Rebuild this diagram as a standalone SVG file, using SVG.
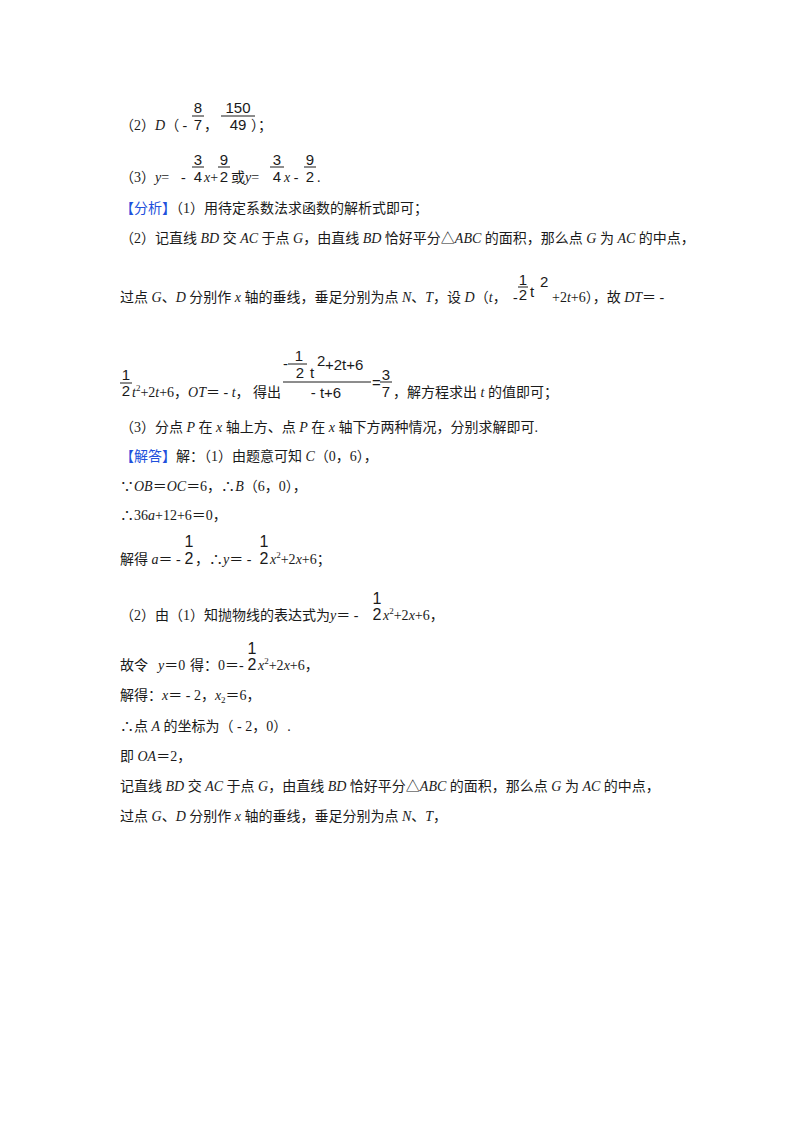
<svg xmlns="http://www.w3.org/2000/svg" width="800" height="1132" viewBox="0 0 800 1132">
<style>
.t{font-family:"Liberation Serif","Noto Sans CJK SC",serif;font-size:14px;fill:#1a1a1a}
.i{font-style:italic}
.f{font-family:"Liberation Sans","Noto Sans CJK SC",sans-serif;font-size:15px;fill:#1a1a1a}
.fc{font-family:"Liberation Sans",sans-serif;font-size:15px;fill:#1a1a1a;text-anchor:middle}
.fb{font-family:"Liberation Sans",sans-serif;font-size:16px;fill:#1a1a1a;text-anchor:middle}
.b{fill:#2150dc}
.sup{font-size:9px}
.bar{stroke:#1a1a1a;stroke-width:1;fill:none}
</style>
<rect width="800" height="1132" fill="#ffffff"/>

<g id="line1">
<text class="t" x="120" y="130">（2）<tspan class="i">D</tspan>（ - </text>
<text class="fc" x="198" y="113">8</text><line class="bar" x1="192" y1="116" x2="204" y2="116"/><text class="fc" x="198" y="130">7</text>
<text class="t" x="204" y="130">，</text>
<text class="fc" x="238" y="113">150</text><line class="bar" x1="221" y1="116" x2="255" y2="116"/><text class="fc" x="238" y="130">49</text>
<text class="t" x="251" y="130">）；</text>
</g>

<g id="line2">
<text class="t" x="120" y="182">（3）<tspan class="i">y</tspan>=</text>
<text class="t" x="181" y="182">-</text>
<text class="fc" x="198" y="165">3</text><line class="bar" x1="192" y1="167" x2="204" y2="167"/><text class="fc" x="198" y="182">4</text>
<text class="t" x="204" y="182"><tspan class="i">x</tspan>+</text>
<text class="fc" x="224" y="165">9</text><line class="bar" x1="218" y1="167" x2="230" y2="167"/><text class="fc" x="224" y="182">2</text>
<text class="t" x="231" y="182">或<tspan class="i">y</tspan>=</text>
<text class="fc" x="277" y="165">3</text><line class="bar" x1="270" y1="167" x2="284" y2="167"/><text class="fc" x="277" y="182">4</text>
<text class="t" x="284" y="182"><tspan class="i">x</tspan> -</text>
<text class="fc" x="310" y="165">9</text><line class="bar" x1="304" y1="167" x2="316" y2="167"/><text class="fc" x="310" y="182">2</text>
<text class="t" x="317" y="182">.</text>
</g>

<g id="analysis">
<text class="t" x="120" y="213"><tspan class="b">【分析】</tspan>（1）用待定系数法求函数的解析式即可；</text>
<text class="t" x="120" y="243">（2）记直线 <tspan class="i">BD</tspan> 交 <tspan class="i">AC</tspan> 于点 <tspan class="i">G</tspan>，由直线 <tspan class="i">BD</tspan> 恰好平分△<tspan class="i">ABC</tspan> 的面积，那么点 <tspan class="i">G</tspan> 为 <tspan class="i">AC</tspan> 的中点，</text>
</g>

<g id="line5">
<text class="t" x="120" y="302">过点 <tspan class="i">G</tspan>、<tspan class="i">D</tspan> 分别作 <tspan class="i">x</tspan> 轴的垂线，垂足分别为点 <tspan class="i">N</tspan>、<tspan class="i">T</tspan>，设 <tspan class="i">D</tspan>（<tspan class="i">t</tspan>，</text>
<text class="t" x="513" y="302">-</text>
<text class="fc" x="523" y="285">1</text><line class="bar" x1="518" y1="287" x2="528" y2="287"/><text class="fc" x="523" y="300">2</text>
<text class="f" x="530" y="297">t</text><text class="f" x="540" y="287">2</text>
<text class="t" x="552" y="302">+2<tspan class="i">t</tspan>+6），故 <tspan class="i">DT</tspan>＝ -</text>
</g>

<g id="line6">
<text class="fc" x="126" y="380">1</text><line class="bar" x1="120" y1="383" x2="132" y2="383"/><text class="fc" x="126" y="396">2</text>
<text class="t" x="132" y="397"><tspan class="i">t</tspan><tspan class="sup" dy="-6">2</tspan><tspan dy="6">+2</tspan><tspan class="i">t</tspan>+6，<tspan class="i">OT</tspan>＝ - <tspan class="i">t</tspan>，</text>
<text class="t" x="253" y="397">得出</text>
<text class="f" x="283" y="369">-</text>
<text class="fc" x="299" y="361">1</text><line class="bar" x1="288" y1="364" x2="307" y2="364"/><text class="fc" x="300" y="378">2</text>
<text class="f" x="310" y="378">t</text><text class="f" x="317" y="366">2</text>
<text class="f" x="325" y="370">+2t+6</text>
<line class="bar" x1="283" y1="382" x2="371" y2="382"/>
<text class="fc" x="326" y="398">- t+6</text>
<text class="f" x="372" y="388">=</text>
<text class="fc" x="386" y="380">3</text><line class="bar" x1="380" y1="382" x2="392" y2="382"/><text class="fc" x="386" y="397">7</text>
<text class="t" x="393" y="397">，解方程求出 <tspan class="i">t</tspan> 的值即可；</text>
</g>

<g id="line7">
<text class="t" x="120" y="432">（3）分点 <tspan class="i">P</tspan> 在 <tspan class="i">x</tspan> 轴上方、点 <tspan class="i">P</tspan> 在 <tspan class="i">x</tspan> 轴下方两种情况，分别求解即可.</text>
</g>

<g id="solution">
<text class="t" x="120" y="461"><tspan class="b">【解答】</tspan>解：（1）由题意可知 <tspan class="i">C</tspan>（0，6），</text>
<text class="t" x="120" y="491">∵<tspan class="i">OB</tspan>＝<tspan class="i">OC</tspan>＝6，∴<tspan class="i">B</tspan>（6，0），</text>
<text class="t" x="120" y="520">∴36<tspan class="i">a</tspan>+12+6＝0，</text>
</g>

<g id="line11">
<text class="t" x="120" y="564">解得 <tspan class="i">a</tspan>＝ -</text>
<text class="fb" x="189" y="547">1</text><text class="fb" x="189" y="564">2</text>
<text class="t" x="195" y="564">，∴<tspan class="i">y</tspan>＝ -</text>
<text class="fb" x="264" y="547">1</text><text class="fb" x="264" y="564">2</text>
<text class="t" x="270" y="564"><tspan class="i">x</tspan><tspan class="sup" dy="-6">2</tspan><tspan dy="6">+2</tspan><tspan class="i">x</tspan>+6；</text>
</g>

<g id="line12">
<text class="t" x="120" y="620">（2）由（1）知抛物线的表达式为<tspan class="i">y</tspan>＝ -</text>
<text class="fb" x="377" y="604">1</text><text class="fb" x="377" y="620">2</text>
<text class="t" x="383" y="620"><tspan class="i">x</tspan><tspan class="sup" dy="-6">2</tspan><tspan dy="6">+2</tspan><tspan class="i">x</tspan>+6，</text>
</g>

<g id="line13">
<text class="t" x="120" y="670">故令</text>
<text class="t" x="158" y="670"><tspan class="i">y</tspan>＝0</text>
<text class="t" x="190" y="670">得：0＝-</text>
<text class="fb" x="252" y="654">1</text><text class="fb" x="252" y="670">2</text>
<text class="t" x="258" y="670"><tspan class="i">x</tspan><tspan class="sup" dy="-6">2</tspan><tspan dy="6">+2</tspan><tspan class="i">x</tspan>+6，</text>
</g>

<g id="tail">
<text class="t" x="120" y="700">解得：<tspan class="i">x</tspan>＝ - 2，<tspan class="i">x</tspan><tspan class="sup" dy="3">2</tspan><tspan dy="-3">＝6，</tspan></text>
<text class="t" x="120" y="731">∴点 <tspan class="i">A</tspan> 的坐标为（ - 2，0）.</text>
<text class="t" x="120" y="761">即 <tspan class="i">OA</tspan>＝2，</text>
<text class="t" x="120" y="791">记直线 <tspan class="i">BD</tspan> 交 <tspan class="i">AC</tspan> 于点 <tspan class="i">G</tspan>，由直线 <tspan class="i">BD</tspan> 恰好平分△<tspan class="i">ABC</tspan> 的面积，那么点 <tspan class="i">G</tspan> 为 <tspan class="i">AC</tspan> 的中点，</text>
<text class="t" x="120" y="821">过点 <tspan class="i">G</tspan>、<tspan class="i">D</tspan> 分别作 <tspan class="i">x</tspan> 轴的垂线，垂足分别为点 <tspan class="i">N</tspan>、<tspan class="i">T</tspan>，</text>
</g>
</svg>
